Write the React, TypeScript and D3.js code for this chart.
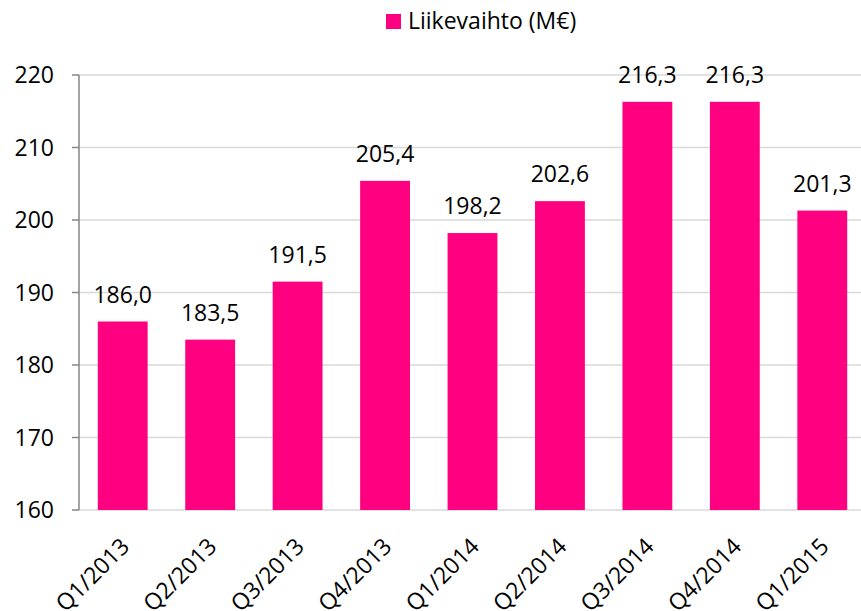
import * as d3 from "d3";

const categories = [
  "Q1/2013",
  "Q2/2013",
  "Q3/2013",
  "Q4/2013",
  "Q1/2014",
  "Q2/2014",
  "Q3/2014",
  "Q4/2014",
  "Q1/2015",
];
const revenue = [186.0, 183.5, 191.5, 205.4, 198.2, 202.6, 216.3, 216.3, 201.3];
const yTicks = [160, 170, 180, 190, 200, 210, 220];
const seriesName = "Liikevaihto (M€)";

const W = 861;
const H = 611;
const FONT = "'Open Sans', sans-serif";
const PINK = "#FF0080";

const App = () => {
  const x = d3
    .scaleBand<string>()
    .domain(categories)
    .range([79, 866])
    .paddingInner(0.43)
    .paddingOuter(0.215);
  const y = d3.scaleLinear().domain([160, 220]).range([510, 75]);
  const fmt = (v: number) => v.toFixed(1).replace(".", ",");

  return (
    <svg
      width={W}
      height={H}
      style={{ position: "absolute", left: 0, top: 0, background: "#fff" }}
      fontFamily={FONT}
    >
      {/* gridlines */}
      {yTicks.map((t) => (
        <line
          key={"g" + t}
          x1={79}
          x2={W}
          y1={y(t)}
          y2={y(t)}
          stroke="#d9d9d9"
          strokeWidth={1.5}
        />
      ))}

      {/* bars */}
      {categories.map((c, i) => (
        <rect
          key={c}
          x={x(c)}
          y={y(revenue[i])}
          width={x.bandwidth()}
          height={y(160) - y(revenue[i])}
          fill={PINK}
        />
      ))}

      {/* value labels */}
      {categories.map((c, i) => (
        <text
          key={"v" + c}
          x={(x(c) ?? 0) + x.bandwidth() / 2}
          y={y(revenue[i]) - 19}
          textAnchor="middle"
          fontSize={23}
          fill="#000"
        >
          {fmt(revenue[i])}
        </text>
      ))}

      {/* y axis */}
      <line x1={79} x2={79} y1={y(220)} y2={y(160)} stroke="#868686" strokeWidth={1.5} />
      {yTicks.map((t) => (
        <g key={"t" + t}>
          <line x1={72} x2={79} y1={y(t)} y2={y(t)} stroke="#868686" strokeWidth={1.5} />
          <text
            x={54}
            y={y(t)}
            dy="0.36em"
            textAnchor="end"
            fontSize={23}
            fill="#000"
          >
            {t}
          </text>
        </g>
      ))}

      {/* x labels */}
      {categories.map((c) => {
        const cx = (x(c) ?? 0) + x.bandwidth() / 2 + 8;
        const cy = 548;
        return (
          <text
            key={"x" + c}
            transform={`translate(${cx},${cy}) rotate(-45)`}
            textAnchor="end"
            fontSize={23}
            fill="#000"
          >
            {c}
          </text>
        );
      })}

      {/* legend */}
      <rect x={386} y={14} width={15} height={15} fill={PINK} />
      <text x={408} y={29} fontSize={23} fill="#000">
        {seriesName}
      </text>
    </svg>
  );
};

export default App;
